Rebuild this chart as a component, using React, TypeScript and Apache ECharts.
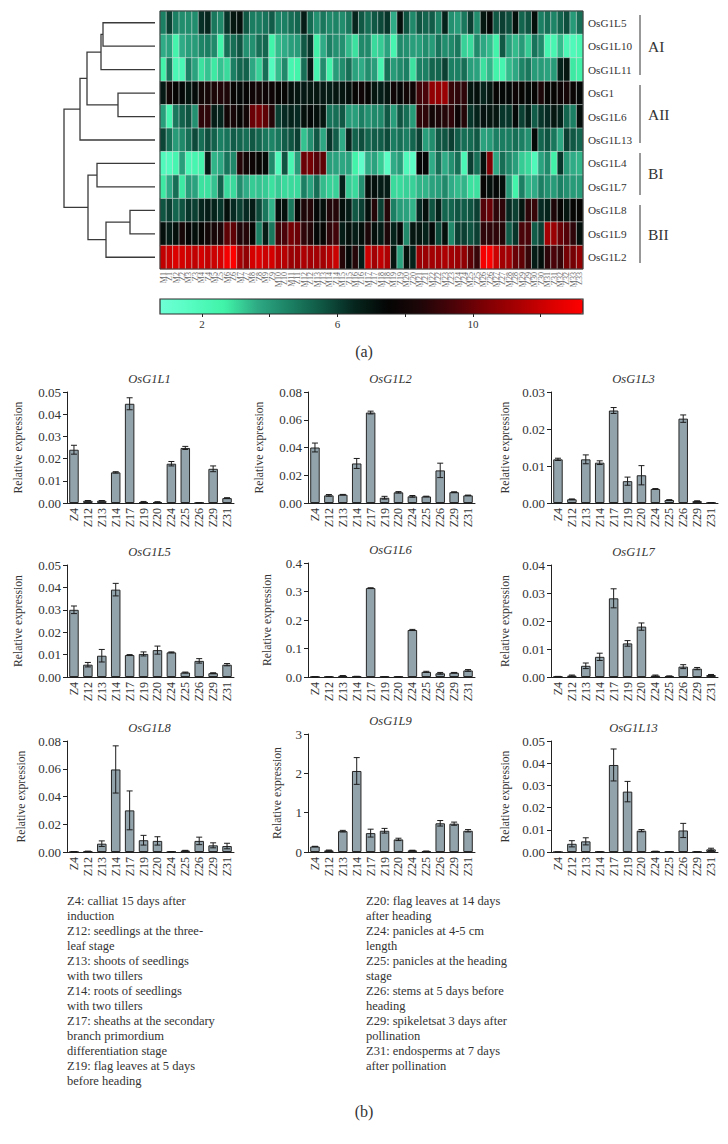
import React, { useEffect, useRef } from "react";
import * as echarts from "echarts";

const FONT = '"Liberation Serif", serif';
const INK = "#333";

// ---------- heat map data ----------
const geneRows = ["OsG1L5", "OsG1L10", "OsG1L11", "OsG1", "OsG1L6", "OsG1L13", "OsG1L4", "OsG1L7", "OsG1L8", "OsG1L9", "OsG1L2"];
const sampleCols: string[] = [];
for (let i = 1; i <= 33; i++) { sampleCols.push("M" + i); sampleCols.push("Z" + i); }

const rowL5 = [4.6,6,4.6,4.3,4.3,4.3,6.3,6.5,4.8,4.4,6.2,7,7.2,5.5,4.7,4.7,4.9,5.4,4.5,4.6,5,5.2,6.8,5.1,4.2,4.8,4.4,4.5,4.3,4.8,6.5,5.5,5,
  5.5,5.8,6.2,3.6,7.2,5.6,4.4,5.6,5.2,5.4,4.5,6.6,4.2,4,4.8,6,4.3,7,7.5,5.5,6,5.7,7.2,5.2,5.6,7.2,4.6,5,4.5,5.2,5.7,4,5];
const rowL10 = [3.6,3.8,2.5,3.6,3.9,4,4.5,4.7,4.4,2.6,5,5,5.6,4.2,4.2,5,5.2,2.6,3.4,3.6,3.9,4,5.5,6.2,2.7,3.6,4.6,4.2,4.2,3.4,2.9,4.4,4.4,
  3,3.2,3.8,2.4,4.4,4.2,3.9,3.9,4.3,4,4.9,4.3,4.4,4.8,3.1,3,4.4,3.7,3.4,2.6,5.5,3.9,3.4,4,3.2,4.9,4.4,2.4,2.3,3.4,2.1,2,2.3];
const rowL11 = [2.6,4.8,2.2,2.2,4.6,3.8,2.9,3.3,2.8,3.3,3,4.6,5.2,5.3,3.7,3.1,5,1.8,3.4,4.4,2.4,2.6,5,6.9,2.4,4.3,2.6,4,4.3,5,3.8,3.6,4.3,
  3.9,2.4,5,4,4.4,4.6,2.9,4.6,4.6,5.2,5.2,6,4.6,4.6,5,3.9,3.8,2.9,3.5,2.6,2.4,3.4,3.7,4.5,4.8,4,4,3.8,4,6.6,7,2.8,2.7];
const rowG1 = [6.9,8,7.6,7.4,7,7.3,8,8.2,8.3,8.5,8.4,7.6,7.4,7.5,7.9,8,7.8,7.8,7.6,7.6,7.2,7,6.9,7,7,6.9,6.8,7,7,7.2,7.6,7.9,7.6,
  7,6.7,7,7.9,7.5,8,7.9,9.2,9.4,10.8,10.9,11,9,8.8,8.8,7,7.2,6.5,7,7.6,7.4,7.4,7.8,7.6,7.4,7.6,8.4,7.6,7.6,7.8,8.2,7.7,7.4];
const rowL6 = [3.9,2.4,4.8,5.3,5.6,4.2,8.8,8.8,6.8,6.5,8,8.2,7.6,8,10,10.2,9.8,8.6,6,6.4,6.6,6.4,7.2,7.4,7.2,7,4.9,5,5.5,4,3.9,4.6,4.2,
  4.4,4.4,5.5,3.9,5.6,5,4,8.8,8.8,8,8.4,8.6,8.8,7.8,8.6,6.2,6.6,7.1,7,7,6.2,6.2,7.4,6,6.6,5.4,6.2,6.4,7,6.6,5.2,4.6,7.2];
const rowL13 = [5.9,5,4,4.4,5,5.8,5,5.7,5.3,4.6,4.9,5.4,5.2,5,5.5,5.2,4.8,4.5,4.8,5.4,5.6,6,3.3,4.2,5.5,3.7,6.2,5.4,3.6,6.5,5.3,5.7,5.2,
  5.4,5.4,5.8,4.7,5,4.6,5.2,6,3.9,4.3,5.5,5.6,6,5.4,5,5.1,5.5,3.8,4,4.6,4.7,4.7,5,4.6,4.2,7.4,5.2,5.6,4.8,3.7,6,5.5,5.2];
const rowL4 = [1.9,1.8,2.4,3.9,2.2,2.4,2.5,6.8,3.5,3.7,4.9,4.4,8.6,8,7.8,7.6,7.4,4.4,2,5.6,2.3,4,10,10.2,9.6,9.8,3.9,3.8,3.7,3.8,2.6,1.3,3.6,
  3.8,3.2,1.5,3.6,4,2,1.5,7.5,7.5,3.6,5,3.6,4.2,5,2.2,6,5,7.2,10.4,3.7,5,4.4,3.9,3.2,3,2,3.8,4.4,2.7,6.2,4,3.6,3.5];
const rowL7 = [2.8,3.6,5,2.8,4,3.8,2.9,2.9,3.3,5.3,3,3,4.3,3.6,3.2,3.3,3.2,2.9,3.2,3,3,3,4.6,3.8,5,3.4,3.1,3.1,6.6,3.2,3,4.2,7.2,
  7.2,6.8,6.8,3,3,3.1,3.1,3.5,3.5,3.8,3.9,4.4,3.6,3.4,3.5,2.9,2.9,7.6,7.2,7.4,7.2,4,2.6,4.6,3.5,3.6,4.6,4.2,4,4.6,4.2,4,4];
const rowL8 = [5.6,6,5.2,5.6,6.2,6,6.5,6.8,6.6,6.2,7.2,6.4,6,6.4,6.8,5.8,4.8,3.5,7.2,7.2,4.8,7.4,8.4,8.6,7.4,7.2,8.5,8.6,7.2,6.8,5.5,6,7.2,
  8.6,6,8.6,4.6,4,3.8,3.5,6.4,7.2,5.6,6.6,5.2,5.2,5.6,5.4,5.6,6,9.6,10,8.8,8.8,6.4,6,7,8.8,9,6.4,6.6,8.4,7.6,7,7.6,7.6];
const rowL9 = [7.2,6.8,7.2,8.2,7.5,7.2,7.6,8,8.2,8.4,9.8,9.8,8.5,8.6,7.6,4.6,6.8,4.8,9.2,9.4,10.2,10,8.8,8.6,7.4,7.6,8.8,9.2,6.8,7.2,6.8,7.2,8.4,
  7.2,6.8,8.4,6.6,7.4,4.4,7,7,6.6,7.4,5.8,7.2,4.4,6,6,5.6,6,8.8,8.8,8.8,8.6,5.4,6.2,9.4,9.4,5.4,6,11.2,11,10,9.6,8.8,7.2];
const rowL2 = [11.8,12,12.4,12.2,12,11.8,12.2,11.8,12,12.2,13,13.2,11.2,10.8,12.2,12.4,12,12.2,11.6,11.6,11,11,11.4,11.2,11.2,11.2,11.6,12,8.6,7.4,8.6,6.8,12,
  11.2,11.8,11.4,7,3.8,7.2,6.6,11,11,11.2,11.2,11.4,11.2,11,10.8,9.8,9,13,13.2,12,11.2,11.2,10,9.8,9,6.8,7.2,8.8,9.4,9,10.2,10.2,10.8];
const heatRows = [rowL5, rowL10, rowL11, rowG1, rowL6, rowL13, rowL4, rowL7, rowL8, rowL9, rowL2];

const scaleMin = 0.76;
const scaleMax = 13.25;
const scaleColors = ["#6effd6", "#55fcc0", "#40f2a8", "#2ea983", "#1b8063", "#0f5542", "#05241c", "#040504", "#1e0608", "#4a0308", "#7e0004", "#a80002", "#d80000", "#ff0000"];
const scaleTicks = [2, 4, 6, 8, 10, 12];
const scaleLabels = [2, 6, 10];

// merges of the tree: [child a, child b, height]; ids 0-10 are the rows, then one id per merge
const treeMerges = [
  [0, 1, 52], [11, 2, 54], [3, 4, 37], [12, 13, 68], [14, 5, 75],
  [6, 7, 58], [8, 9, 25], [17, 10, 49], [16, 18, 67], [15, 19, 91],
];

const groupNames = ["AI", "AII", "BI", "BII"];

// ---------- bar data ----------
const tissues = ["Z4", "Z12", "Z13", "Z14", "Z17", "Z19", "Z20", "Z24", "Z25", "Z26", "Z29", "Z31"];

const L1val = [0.024,0.001,0.001,0.0138,0.0447,0.0004,0.0004,0.0177,0.0248,0.0001,0.0154,0.0022];
const L1err = [0.002,0.0001,0.0001,0.0003,0.0027,0.0003,0.0002,0.001,0.0007,0,0.0013,0.0002];
const L2val = [0.04,0.0055,0.006,0.0285,0.0652,0.0038,0.0077,0.0048,0.0047,0.0235,0.0078,0.0055];
const L2err = [0.0032,0.0006,0.0002,0.0036,0.001,0.001,0.0005,0.0006,0.0002,0.0052,0.0003,0.0002];
const L3val = [0.0118,0.001,0.0118,0.0109,0.025,0.0059,0.0075,0.0038,0.0008,0.0228,0.0005,0.0001];
const L3err = [0.0003,0.0001,0.0012,0.0005,0.0008,0.0011,0.0026,0.0001,0.0001,0.001,0.0001,0];
const L5val = [0.03,0.0055,0.0095,0.039,0.0098,0.0103,0.012,0.011,0.002,0.0072,0.0017,0.0055];
const L5err = [0.0017,0.001,0.0028,0.0028,0.0002,0.0009,0.0018,0.0002,0.0002,0.001,0.0002,0.0005];
const L6val = [0.001,0.001,0.004,0.002,0.312,0.001,0.001,0.165,0.018,0.013,0.015,0.023];
const L6err = [0,0,0.001,0.0005,0.001,0,0,0.002,0.002,0.003,0.001,0.003];
const L7val = [0.0002,0.0005,0.004,0.0072,0.0281,0.012,0.018,0.0005,0.0003,0.0037,0.003,0.0007];
const L7err = [0,0.0002,0.001,0.0013,0.0034,0.001,0.0013,0.0002,0.0001,0.0007,0.0004,0.0002];
const L8val = [0.0002,0.0005,0.006,0.0595,0.03,0.0085,0.008,0.0002,0.001,0.008,0.0048,0.0043];
const L8err = [0,0.0001,0.002,0.017,0.014,0.0035,0.003,0,0.0002,0.0027,0.0018,0.002];
const L9val = [0.14,0.04,0.53,2.06,0.48,0.54,0.32,0.04,0.02,0.73,0.72,0.54];
const L9err = [0.005,0.01,0.02,0.34,0.1,0.06,0.03,0.005,0.003,0.07,0.04,0.03];
const L13val = [0,0.0037,0.0048,0.0001,0.0392,0.0272,0.0096,0.0003,0.0002,0.0097,0.0001,0.0012];
const L13err = [0,0.0014,0.0016,0,0.0072,0.0046,0.0005,0,0,0.0032,0,0.0005];

const panels = [
  { title: "OsG1L1", val: L1val, err: L1err, max: 0.05, step: 0.01, dec: 2, left: 67, top: 392, bottom: 503, gap: 43 },
  { title: "OsG1L2", val: L2val, err: L2err, max: 0.08, step: 0.02, dec: 2, left: 308, top: 392, bottom: 503, gap: 43 },
  { title: "OsG1L3", val: L3val, err: L3err, max: 0.03, step: 0.01, dec: 2, left: 551, top: 392, bottom: 503, gap: 40 },
  { title: "OsG1L5", val: L5val, err: L5err, max: 0.05, step: 0.01, dec: 2, left: 67, top: 565, bottom: 677, gap: 43 },
  { title: "OsG1L6", val: L6val, err: L6err, max: 0.4, step: 0.1, dec: 1, left: 308, top: 563, bottom: 677, gap: 35 },
  { title: "OsG1L7", val: L7val, err: L7err, max: 0.04, step: 0.01, dec: 2, left: 551, top: 565, bottom: 677, gap: 40 },
  { title: "OsG1L8", val: L8val, err: L8err, max: 0.08, step: 0.02, dec: 2, left: 67, top: 741, bottom: 852, gap: 40 },
  { title: "OsG1L9", val: L9val, err: L9err, max: 3, step: 1, dec: 0, left: 308, top: 734, bottom: 852, gap: 25 },
  { title: "OsG1L13", val: L13val, err: L13err, max: 0.05, step: 0.01, dec: 2, left: 551, top: 741, bottom: 852, gap: 40 },
];

const noteLeft = [
  "Z4: calliat 15 days after", "induction", "Z12: seedlings at the three-", "leaf stage", "Z13: shoots of seedlings", "with two tillers",
  "Z14: roots of seedlings", "with two tillers", "Z17: sheaths at the secondary", "branch primordium", "differentiation stage", "Z19: flag leaves at 5 days", "before heading",
];
const noteRight = [
  "Z20: flag leaves at 14 days", "after heading", "Z24: panicles at 4-5 cm", "length", "Z25: panicles at the heading", "stage", "Z26: stems at 5 days before", "heading",
  "Z29: spikeletsat 3 days after", "pollination", "Z31: endosperms at 7 days", "after pollination",
];

// ---------- layout ----------
const heat = { left: 160, top: 11, width: 423, height: 258 };
const bar = { left: 160, top: 299, width: 423, height: 15 };
const tree = { left: 63, width: 92 };
const panelWidth = 167;
const brackets = [
  { y1: 15, y2: 75, ly: 46 }, { y1: 85, y2: 143, ly: 114 }, { y1: 153, y2: 195, ly: 173 }, { y1: 205, y2: 263, ly: 234 },
];

function buildTree() {
  const nodes: { h: number; y: number }[] = geneRows.map((_, i) => ({ h: 0, y: i + 0.5 }));
  return treeMerges.map(([a, b, h]) => {
    const na = nodes[a];
    const nb = nodes[b];
    nodes.push({ h, y: (na.y + nb.y) / 2 });
    return [na.h, na.y, h, nb.y, nb.h];
  });
}

function buildOption() {
  const grid: any[] = [
    { ...heat, containLabel: false },
    { left: tree.left, width: tree.width, top: heat.top, height: heat.height },
    { ...bar },
  ];
  const xAxis: any[] = [
    {
      type: "category", gridIndex: 0, data: sampleCols, position: "bottom",
      axisLine: { show: false }, axisTick: { show: false }, splitLine: { show: false },
      axisLabel: { interval: 0, rotate: 90, fontSize: 8, fontFamily: FONT, color: "#666", margin: 3 },
    },
    { type: "value", gridIndex: 1, min: 0, max: 92, inverse: true, show: false },
    {
      type: "value", gridIndex: 2, min: scaleMin, max: scaleMax, position: "bottom",
      splitLine: { show: false }, axisLine: { show: false },
      axisTick: { show: true, length: 3, lineStyle: { color: "#222" }, customValues: scaleTicks },
      axisLabel: { fontSize: 11, fontFamily: FONT, color: INK, margin: 4, customValues: scaleLabels },
    },
  ];
  const yAxis: any[] = [
    {
      type: "category", gridIndex: 0, data: geneRows, inverse: true, position: "right",
      axisLine: { show: false }, axisTick: { show: false }, splitLine: { show: false },
      axisLabel: { interval: 0, fontSize: 11.2, fontFamily: FONT, color: INK, margin: 5 },
    },
    { type: "value", gridIndex: 1, min: 0, max: 11, inverse: true, show: false },
    { type: "value", gridIndex: 2, min: 0, max: 1, show: false },
  ];
  const heatData: number[][] = [];
  heatRows.forEach((row, r) => row.forEach((v, c) => heatData.push([c, r, v])));
  const series: any[] = [
    {
      type: "heatmap", xAxisIndex: 0, yAxisIndex: 0, data: heatData,
      itemStyle: { borderColor: "rgba(215,225,222,0.72)", borderWidth: 0.8 },
      emphasis: { disabled: true },
    },
    {
      type: "custom", xAxisIndex: 1, yAxisIndex: 1, data: buildTree(), clip: false, silent: true,
      encode: { x: 2, y: 1 },
      renderItem: (_p: any, api: any) => {
        const pts = [
          api.coord([api.value(0), api.value(1)]),
          api.coord([api.value(2), api.value(1)]),
          api.coord([api.value(2), api.value(3)]),
          api.coord([api.value(4), api.value(3)]),
        ];
        return { type: "polyline", shape: { points: pts }, style: { stroke: "#3a3a3a", lineWidth: 1.3, fill: "none" } };
      },
    },
  ];
  const graphic: any[] = [
    { type: "rect", shape: { x: heat.left, y: heat.top, width: heat.width, height: heat.height }, style: { fill: "none", stroke: "#333", lineWidth: 1 }, z: 50 },
    { type: "rect", shape: { x: bar.left, y: bar.top, width: bar.width, height: bar.height }, style: { fill: "none", stroke: "#2c2c2c", lineWidth: 1.2 }, z: 50 },
  ];

  panels.forEach((p, i) => {
    const g = i + 3;
    grid.push({ left: p.left, width: panelWidth, top: p.top, height: p.bottom - p.top });
    xAxis.push({
      type: "category", gridIndex: g, data: tissues,
      axisLine: { lineStyle: { color: "#222", width: 1 } },
      axisTick: { alignWithLabel: true, length: 4, lineStyle: { color: "#222" } },
      axisLabel: { interval: 0, rotate: 90, fontSize: 12, fontFamily: FONT, color: INK, margin: 5 },
    });
    yAxis.push({
      type: "value", gridIndex: g, min: 0, max: p.max, interval: p.step,
      name: "Relative expression", nameLocation: "middle", nameRotate: 90, nameGap: p.gap,
      nameTextStyle: { fontSize: 11.7, fontFamily: FONT, color: INK },
      splitLine: { show: false },
      axisLine: { show: true, lineStyle: { color: "#222", width: 1 } },
      axisTick: { show: true, length: 4, lineStyle: { color: "#222" } },
      axisLabel: { fontSize: 13, fontFamily: FONT, color: INK, margin: 6, formatter: (v: number) => v.toFixed(p.dec) },
    });
    series.push({
      type: "bar", xAxisIndex: g, yAxisIndex: g, data: p.val, barWidth: 9.5,
      itemStyle: { color: "#93a3ab", borderColor: "#262626", borderWidth: 1 },
    });
    series.push({
      type: "custom", xAxisIndex: g, yAxisIndex: g, clip: false, silent: true, z: 5,
      data: p.val.map((v, k) => [k, v, v - p.err[k], v + p.err[k]]),
      encode: { x: 0, y: 1 },
      renderItem: (_p: any, api: any) => {
        const top = api.coord([api.value(0), api.value(3)]);
        const low = api.coord([api.value(0), api.value(2)]);
        const style = { stroke: "#1c1c1c", lineWidth: 1 };
        const cap = 3;
        return {
          type: "group",
          children: [
            { type: "line", shape: { x1: top[0], y1: top[1], x2: low[0], y2: low[1] }, style },
            { type: "line", shape: { x1: top[0] - cap, y1: top[1], x2: top[0] + cap, y2: top[1] }, style },
            { type: "line", shape: { x1: low[0] - cap, y1: low[1], x2: low[0] + cap, y2: low[1] }, style },
          ],
        };
      },
    });
    graphic.push({
      type: "text", x: p.left + panelWidth / 2 - 1, y: p.top - 13,
      style: { text: p.title, font: `italic 12.5px ${FONT}`, fill: INK, textAlign: "center", textVerticalAlign: "middle" },
    });
  });

  brackets.forEach((b, i) => {
    graphic.push({ type: "line", shape: { x1: 640, y1: b.y1, x2: 640, y2: b.y2 }, style: { stroke: "#333", lineWidth: 1 } });
    graphic.push({ type: "text", x: 648, y: b.ly, style: { text: groupNames[i], font: `15.5px ${FONT}`, fill: INK, textVerticalAlign: "middle" } });
  });
  noteLeft.forEach((t, i) => graphic.push({ type: "text", x: 67, y: 901 + i * 15, style: { text: t, font: `12.5px ${FONT}`, fill: INK, textVerticalAlign: "middle" } }));
  noteRight.forEach((t, i) => graphic.push({ type: "text", x: 366, y: 901 + i * 15, style: { text: t, font: `12.5px ${FONT}`, fill: INK, textVerticalAlign: "middle" } }));
  graphic.push({ type: "text", x: 364, y: 351, style: { text: "(a)", font: `16px ${FONT}`, fill: INK, textAlign: "center", textVerticalAlign: "middle" } });
  graphic.push({ type: "text", x: 364, y: 1111, style: { text: "(b)", font: `16px ${FONT}`, fill: INK, textAlign: "center", textVerticalAlign: "middle" } });

  return {
    animation: false,
    backgroundColor: "#fff",
    grid, xAxis, yAxis, series, graphic,
    visualMap: [{
      type: "continuous", seriesIndex: 0, min: scaleMin, max: scaleMax, orient: "horizontal",
      left: bar.left, top: bar.top, itemWidth: bar.height, itemHeight: bar.width, padding: 0,
      calculable: false, hoverLink: false,
      inRange: { color: scaleColors },
    }],
  };
}

export default function App() {
  const ref = useRef<HTMLDivElement>(null);
  useEffect(() => {
    const chart = echarts.init(ref.current!, undefined, { renderer: "svg" });
    chart.setOption(buildOption() as any);
    return () => chart.dispose();
  }, []);
  return <div ref={ref} style={{ position: "absolute", left: 0, top: 0, width: 728, height: 1144 }} />;
}
